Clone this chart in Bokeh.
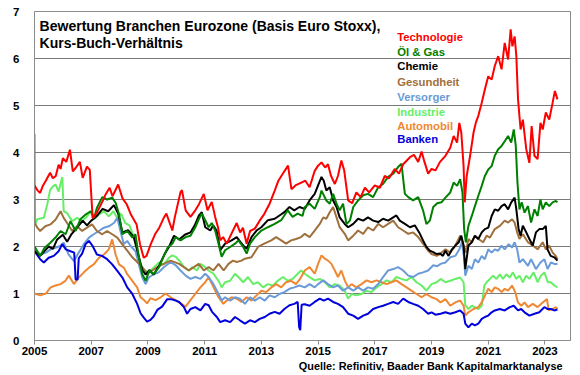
from bokeh.plotting import figure
from bokeh.models import Label, FixedTicker, Title
from bokeh.embed import file_html
from bokeh.resources import INLINE

# ---------------- data ----------------
TITLE_1 = "Bewertung Branchen Eurozone (Basis Euro Stoxx),"
TITLE_2 = "Kurs-Buch-Verhältnis"
SOURCE = "Quelle: Refinitiv, Baader Bank Kapitalmarktanalyse"
NAMES = ["Technologie", "Öl & Gas", "Chemie", "Gesundheit", "Versorger", "Industrie", "Automobil", "Banken"]
X_TICKS = [2005, 2007, 2009, 2011, 2013, 2015, 2017, 2019, 2021, 2023]
Y_TICKS = [0, 1, 2, 3, 4, 5, 6, 7]

TECH_X = [2005.0, 2005.1, 2005.2, 2005.3, 2005.4, 2005.55, 2005.65, 2005.75, 2005.85, 2005.92, 2006.0, 2006.12, 2006.25, 2006.35, 2006.45, 2006.6, 2006.7, 2006.85, 2006.95, 2007.05, 2007.2, 2007.4, 2007.5, 2007.65, 2007.75, 2007.95, 2008.1, 2008.25, 2008.4, 2008.6, 2008.72, 2008.85, 2008.95, 2009.1, 2009.25, 2009.4, 2009.55, 2009.65, 2009.86, 2009.95, 2010.15, 2010.2, 2010.33, 2010.5, 2010.67, 2010.8, 2010.97, 2011.1, 2011.25, 2011.37, 2011.47, 2011.55, 2011.65, 2011.78, 2011.95, 2012.13, 2012.25, 2012.35, 2012.48, 2012.6, 2012.77, 2012.94, 2013.1, 2013.29, 2013.47, 2013.6, 2013.82, 2013.94, 2014.06, 2014.2, 2014.41, 2014.55, 2014.7, 2014.88, 2015.0, 2015.12, 2015.25, 2015.35, 2015.45, 2015.59, 2015.7, 2015.82, 2015.92, 2016.06, 2016.2, 2016.35, 2016.5, 2016.65, 2016.8, 2017.0, 2017.18, 2017.35, 2017.5, 2017.7, 2017.85, 2018.0, 2018.24, 2018.38, 2018.53, 2018.65, 2018.75, 2018.88, 2019.0, 2019.14, 2019.3, 2019.49, 2019.66, 2019.78, 2019.9, 2019.98, 2020.05, 2020.13, 2020.17, 2020.24, 2020.36, 2020.48, 2020.56, 2020.65, 2020.77, 2020.88, 2021.0, 2021.12, 2021.23, 2021.35, 2021.47, 2021.58, 2021.7, 2021.79, 2021.85, 2021.93, 2021.99, 2022.05, 2022.14, 2022.22, 2022.34, 2022.45, 2022.53, 2022.63, 2022.74, 2022.84, 2022.92, 2023.03, 2023.15, 2023.27, 2023.35, 2023.44]
TECH_Y = [3.3, 3.2, 3.14, 3.3, 3.4, 3.57, 3.45, 3.5, 3.74, 3.65, 3.88, 3.8, 4.06, 3.6, 3.67, 3.8, 3.46, 3.7, 3.63, 2.6, 2.72, 2.96, 3.1, 3.25, 3.07, 3.32, 3.03, 2.9, 2.68, 2.47, 2.05, 1.76, 1.8, 2.05, 2.26, 2.4, 2.6, 2.7, 2.34, 2.63, 3.16, 3.2, 2.77, 2.63, 2.77, 2.9, 3.12, 2.77, 2.95, 2.63, 2.41, 2.13, 2.2, 2.06, 2.28, 2.5, 2.3, 2.4, 2.06, 2.33, 2.38, 2.55, 2.69, 2.91, 3.19, 3.4, 3.61, 3.72, 3.22, 3.3, 3.36, 3.4, 3.26, 3.61, 3.72, 3.79, 3.68, 3.75, 3.51, 3.33, 3.5, 3.83, 3.62, 2.98, 2.92, 3.15, 3.05, 3.25, 3.15, 3.3, 3.25, 3.5, 3.45, 3.65, 3.55, 3.75, 3.9, 3.95, 3.8, 4.02, 3.8, 3.55, 3.65, 3.62, 3.8, 3.93, 4.1, 4.35, 4.21, 4.63, 4.42, 3.71, 2.94, 3.5, 3.93, 4.42, 4.63, 4.78, 5.06, 5.34, 5.62, 5.55, 5.84, 6.05, 5.77, 6.33, 5.98, 6.62, 6.26, 6.47, 6.05, 5.13, 4.49, 4.7, 4.07, 3.78, 4.56, 3.93, 3.86, 4.63, 4.49, 4.85, 4.7, 5.06, 5.31, 5.13]

OIL_X = [2005.0, 2005.2, 2005.35, 2005.56, 2005.74, 2005.92, 2006.1, 2006.27, 2006.45, 2006.62, 2006.8, 2006.98, 2007.1, 2007.2, 2007.39, 2007.56, 2007.74, 2007.86, 2007.98, 2008.1, 2008.27, 2008.45, 2008.56, 2008.68, 2008.8, 2008.92, 2009.05, 2009.2, 2009.38, 2009.56, 2009.7, 2009.86, 2009.98, 2010.15, 2010.33, 2010.5, 2010.67, 2010.8, 2010.9, 2011.02, 2011.14, 2011.25, 2011.37, 2011.49, 2011.6, 2011.72, 2011.9, 2012.07, 2012.19, 2012.36, 2012.48, 2012.6, 2012.77, 2013.0, 2013.23, 2013.47, 2013.7, 2013.93, 2014.1, 2014.28, 2014.45, 2014.53, 2014.7, 2014.88, 2015.06, 2015.12, 2015.29, 2015.41, 2015.53, 2015.65, 2015.76, 2015.88, 2016.0, 2016.12, 2016.24, 2016.41, 2016.59, 2016.76, 2016.94, 2017.12, 2017.29, 2017.47, 2017.65, 2017.82, 2017.94, 2018.06, 2018.18, 2018.35, 2018.53, 2018.7, 2018.82, 2018.94, 2019.06, 2019.2, 2019.35, 2019.49, 2019.66, 2019.78, 2019.9, 2020.01, 2020.09, 2020.15, 2020.21, 2020.3, 2020.42, 2020.53, 2020.65, 2020.77, 2020.88, 2021.0, 2021.12, 2021.23, 2021.35, 2021.47, 2021.58, 2021.7, 2021.81, 2021.9, 2021.97, 2022.03, 2022.1, 2022.18, 2022.28, 2022.4, 2022.51, 2022.63, 2022.74, 2022.84, 2022.92, 2023.03, 2023.15, 2023.27, 2023.38, 2023.44]
OIL_Y = [2.0, 1.8, 1.97, 2.08, 2.19, 2.33, 2.26, 2.54, 2.33, 2.58, 2.68, 2.75, 2.61, 2.82, 3.05, 3.0, 3.04, 2.93, 2.69, 2.26, 2.33, 2.19, 2.26, 1.77, 1.41, 1.27, 1.49, 1.41, 1.55, 1.8, 1.98, 2.06, 2.2, 2.13, 2.2, 2.23, 2.41, 2.59, 2.7, 2.56, 2.41, 2.5, 2.34, 2.06, 1.78, 1.92, 1.99, 2.06, 2.13, 1.99, 1.85, 2.06, 2.2, 2.34, 2.41, 2.48, 2.56, 2.77, 2.63, 2.7, 2.65, 2.84, 2.91, 2.8, 3.05, 3.19, 2.98, 2.91, 3.12, 2.91, 2.77, 2.91, 2.48, 2.55, 2.84, 2.98, 3.09, 3.12, 3.05, 3.26, 3.33, 3.48, 3.55, 3.69, 3.76, 3.12, 3.05, 2.98, 3.05, 2.77, 2.48, 2.55, 2.84, 2.92, 2.94, 3.04, 3.15, 3.36, 3.29, 3.43, 3.15, 2.37, 2.09, 2.44, 2.65, 2.86, 3.08, 3.29, 3.5, 3.64, 3.71, 3.93, 4.07, 4.14, 4.24, 4.35, 4.21, 4.49, 4.14, 3.36, 2.79, 2.94, 2.72, 2.86, 2.51, 2.79, 2.65, 3.0, 2.79, 2.94, 2.86, 2.94, 2.97, 2.94]

CHEM_X = [2005.0, 2005.2, 2005.35, 2005.5, 2005.65, 2005.8, 2006.0, 2006.15, 2006.3, 2006.5, 2006.7, 2006.85, 2007.0, 2007.2, 2007.4, 2007.6, 2007.8, 2007.95, 2008.1, 2008.3, 2008.5, 2008.65, 2008.8, 2008.92, 2009.05, 2009.2, 2009.4, 2009.6, 2009.75, 2009.92, 2010.1, 2010.3, 2010.5, 2010.65, 2010.8, 2010.9, 2011.02, 2011.2, 2011.3, 2011.42, 2011.55, 2011.72, 2011.95, 2012.13, 2012.36, 2012.48, 2012.65, 2012.83, 2013.0, 2013.23, 2013.47, 2013.64, 2013.81, 2013.99, 2014.16, 2014.34, 2014.53, 2014.7, 2014.88, 2015.0, 2015.12, 2015.2, 2015.29, 2015.41, 2015.53, 2015.65, 2015.76, 2015.94, 2016.06, 2016.24, 2016.41, 2016.59, 2016.76, 2016.94, 2017.12, 2017.29, 2017.47, 2017.65, 2017.76, 2017.88, 2018.06, 2018.24, 2018.41, 2018.59, 2018.7, 2018.82, 2018.94, 2019.06, 2019.18, 2019.3, 2019.4, 2019.49, 2019.6, 2019.72, 2019.84, 2019.96, 2020.05, 2020.13, 2020.19, 2020.3, 2020.42, 2020.53, 2020.65, 2020.77, 2020.88, 2021.0, 2021.12, 2021.23, 2021.35, 2021.47, 2021.58, 2021.7, 2021.81, 2021.93, 2021.99, 2022.07, 2022.14, 2022.22, 2022.34, 2022.45, 2022.57, 2022.68, 2022.8, 2022.92, 2023.03, 2023.09, 2023.2, 2023.33, 2023.44]
CHEM_Y = [1.9, 1.8, 1.9, 2.0, 1.95, 2.15, 2.25, 2.1, 2.26, 2.4, 2.55, 2.45, 2.55, 2.65, 2.8, 2.75, 2.88, 2.7, 2.3, 2.35, 2.2, 1.85, 1.5, 1.4, 1.5, 1.4, 1.6, 1.85, 2.0, 2.23, 2.15, 2.25, 2.3, 2.45, 2.66, 2.73, 2.41, 2.34, 2.45, 2.34, 1.92, 2.06, 2.13, 2.2, 2.02, 1.95, 2.2, 2.34, 2.41, 2.56, 2.59, 2.66, 2.73, 2.84, 2.77, 2.84, 2.8, 2.98, 3.12, 3.3, 3.48, 3.4, 3.19, 3.26, 2.98, 2.84, 2.62, 2.48, 2.41, 2.48, 2.59, 2.55, 2.62, 2.55, 2.52, 2.59, 2.55, 2.62, 2.66, 2.55, 2.48, 2.41, 2.45, 2.27, 2.13, 1.99, 1.91, 1.88, 1.84, 1.85, 1.8, 1.91, 1.8, 1.94, 2.02, 2.09, 2.23, 2.02, 1.52, 2.02, 2.09, 2.23, 2.16, 2.3, 2.37, 2.4, 2.65, 2.79, 2.76, 2.86, 2.9, 2.79, 2.94, 3.04, 2.79, 2.37, 2.23, 2.44, 2.3, 2.16, 2.02, 2.3, 2.37, 2.37, 2.44, 1.94, 1.8, 1.77, 1.7]

HEALTH_X = [2005.0, 2005.01, 2005.1, 2005.2, 2005.38, 2005.56, 2005.74, 2005.92, 2006.03, 2006.15, 2006.33, 2006.5, 2006.68, 2006.85, 2007.03, 2007.2, 2007.39, 2007.56, 2007.74, 2007.92, 2008.09, 2008.27, 2008.45, 2008.62, 2008.8, 2008.97, 2009.15, 2009.33, 2009.56, 2009.8, 2010.1, 2010.27, 2010.44, 2010.62, 2010.79, 2010.97, 2011.14, 2011.31, 2011.49, 2011.67, 2011.84, 2012.0, 2012.13, 2012.3, 2012.42, 2012.65, 2012.88, 2013.1, 2013.35, 2013.52, 2013.7, 2013.87, 2014.05, 2014.22, 2014.4, 2014.53, 2014.7, 2014.88, 2015.06, 2015.18, 2015.29, 2015.41, 2015.53, 2015.65, 2015.76, 2015.94, 2016.06, 2016.24, 2016.41, 2016.59, 2016.76, 2016.94, 2017.12, 2017.29, 2017.47, 2017.65, 2017.82, 2018.0, 2018.18, 2018.35, 2018.53, 2018.7, 2018.88, 2019.0, 2019.18, 2019.3, 2019.49, 2019.66, 2019.84, 2020.01, 2020.13, 2020.21, 2020.3, 2020.42, 2020.53, 2020.65, 2020.82, 2020.94, 2021.06, 2021.23, 2021.41, 2021.58, 2021.7, 2021.84, 2021.93, 2022.02, 2022.1, 2022.22, 2022.4, 2022.57, 2022.74, 2022.92, 2023.03, 2023.15, 2023.27, 2023.38, 2023.44]
HEALTH_Y = [4.4, 2.5, 2.4, 2.33, 2.43, 2.47, 2.57, 2.75, 2.61, 2.5, 2.33, 2.43, 2.33, 2.4, 2.47, 2.33, 2.26, 2.33, 2.26, 2.19, 2.05, 1.91, 1.77, 1.67, 1.56, 1.42, 1.49, 1.56, 1.63, 1.7, 1.63, 1.56, 1.49, 1.56, 1.63, 1.49, 1.56, 1.49, 1.63, 1.49, 1.63, 1.7, 1.67, 1.7, 1.74, 1.77, 1.99, 2.06, 2.13, 2.2, 2.13, 2.06, 2.13, 2.16, 2.2, 2.27, 2.2, 2.34, 2.48, 2.62, 2.59, 2.73, 2.84, 2.62, 2.41, 2.27, 2.13, 2.23, 2.34, 2.27, 2.41, 2.34, 2.48, 2.41, 2.48, 2.55, 2.41, 2.34, 2.27, 2.3, 2.2, 2.06, 1.91, 1.84, 1.8, 1.84, 1.94, 1.87, 2.02, 2.23, 2.02, 1.87, 2.16, 2.09, 2.23, 2.16, 2.09, 2.23, 2.19, 2.37, 2.44, 2.55, 2.51, 2.58, 2.51, 2.3, 2.16, 2.26, 2.09, 2.02, 1.94, 2.09, 1.94, 2.02, 1.87, 1.8, 1.73]

UTIL_X = [2005.0, 2005.2, 2005.4, 2005.57, 2005.74, 2005.9, 2006.03, 2006.2, 2006.39, 2006.56, 2006.74, 2006.92, 2007.09, 2007.27, 2007.45, 2007.62, 2007.8, 2007.92, 2008.03, 2008.15, 2008.27, 2008.39, 2008.56, 2008.68, 2008.8, 2008.92, 2009.03, 2009.2, 2009.38, 2009.56, 2009.8, 2009.98, 2010.15, 2010.33, 2010.5, 2010.67, 2010.85, 2011.02, 2011.14, 2011.31, 2011.49, 2011.6, 2011.72, 2011.9, 2012.07, 2012.24, 2012.42, 2012.6, 2012.77, 2012.94, 2013.12, 2013.29, 2013.47, 2013.64, 2013.81, 2013.99, 2014.16, 2014.34, 2014.53, 2014.7, 2014.88, 2015.0, 2015.18, 2015.35, 2015.53, 2015.7, 2015.88, 2016.06, 2016.24, 2016.41, 2016.59, 2016.76, 2016.94, 2017.12, 2017.29, 2017.47, 2017.65, 2017.82, 2018.0, 2018.18, 2018.35, 2018.53, 2018.7, 2018.88, 2019.06, 2019.2, 2019.32, 2019.49, 2019.66, 2019.84, 2019.98, 2020.07, 2020.14, 2020.19, 2020.3, 2020.42, 2020.53, 2020.65, 2020.77, 2020.88, 2021.0, 2021.12, 2021.23, 2021.35, 2021.47, 2021.58, 2021.72, 2021.84, 2021.93, 2022.02, 2022.1, 2022.22, 2022.4, 2022.51, 2022.68, 2022.84, 2022.98, 2023.09, 2023.21, 2023.33, 2023.44]
UTIL_Y = [1.94, 1.83, 1.87, 1.94, 1.97, 2.01, 2.08, 1.83, 1.69, 1.87, 2.05, 2.19, 2.26, 2.33, 2.4, 2.43, 2.5, 2.61, 2.33, 2.05, 2.12, 2.01, 1.9, 1.62, 1.34, 1.2, 1.34, 1.41, 1.45, 1.56, 1.67, 1.6, 1.49, 1.38, 1.31, 1.35, 1.31, 1.42, 1.35, 1.2, 0.99, 0.85, 0.92, 0.85, 0.92, 0.89, 0.78, 0.92, 0.85, 0.92, 0.85, 0.96, 0.92, 0.99, 1.03, 1.1, 1.13, 1.17, 1.13, 1.2, 1.13, 1.2, 1.28, 1.2, 1.13, 1.17, 1.06, 1.13, 1.06, 1.13, 1.06, 1.13, 1.1, 1.2, 1.35, 1.49, 1.52, 1.56, 1.49, 1.38, 1.35, 1.42, 1.45, 1.49, 1.6, 1.58, 1.63, 1.66, 1.77, 1.8, 1.94, 2.09, 1.8, 1.38, 1.59, 1.52, 1.73, 1.66, 1.8, 1.73, 1.94, 1.87, 1.94, 1.91, 2.02, 1.94, 2.05, 1.98, 2.09, 1.94, 1.66, 1.73, 1.59, 1.73, 1.52, 1.66, 1.73, 1.52, 1.66, 1.63, 1.63]

IND_X = [2005.0, 2005.1, 2005.33, 2005.45, 2005.55, 2005.65, 2005.74, 2005.85, 2005.98, 2006.03, 2006.15, 2006.33, 2006.5, 2006.68, 2006.85, 2006.98, 2007.1, 2007.27, 2007.45, 2007.62, 2007.78, 2007.92, 2008.05, 2008.2, 2008.35, 2008.5, 2008.6, 2008.7, 2008.8, 2008.92, 2009.03, 2009.2, 2009.39, 2009.56, 2009.74, 2009.86, 2009.98, 2010.15, 2010.27, 2010.44, 2010.56, 2010.73, 2010.85, 2011.02, 2011.14, 2011.31, 2011.49, 2011.6, 2011.72, 2011.9, 2012.07, 2012.19, 2012.36, 2012.53, 2012.71, 2012.88, 2013.06, 2013.23, 2013.41, 2013.58, 2013.76, 2013.93, 2014.1, 2014.28, 2014.4, 2014.53, 2014.7, 2014.88, 2015.06, 2015.24, 2015.41, 2015.59, 2015.76, 2015.94, 2016.06, 2016.18, 2016.35, 2016.53, 2016.71, 2016.88, 2017.06, 2017.24, 2017.41, 2017.59, 2017.76, 2017.94, 2018.12, 2018.29, 2018.47, 2018.65, 2018.82, 2019.0, 2019.18, 2019.32, 2019.49, 2019.66, 2019.84, 2020.01, 2020.13, 2020.19, 2020.3, 2020.42, 2020.53, 2020.65, 2020.77, 2020.86, 2020.94, 2021.06, 2021.17, 2021.29, 2021.41, 2021.52, 2021.64, 2021.76, 2021.87, 2021.99, 2022.1, 2022.22, 2022.34, 2022.45, 2022.6, 2022.74, 2022.86, 2022.98, 2023.1, 2023.21, 2023.33, 2023.44]
IND_Y = [2.45, 2.58, 2.61, 2.9, 3.2, 3.28, 3.32, 3.17, 3.48, 2.75, 2.71, 2.54, 2.61, 2.54, 2.64, 2.75, 2.58, 2.68, 2.75, 2.64, 2.75, 2.6, 2.7, 2.5, 2.45, 2.2, 1.98, 1.69, 1.55, 1.48, 1.45, 1.55, 1.66, 1.62, 1.76, 1.81, 1.78, 1.67, 1.56, 1.49, 1.56, 1.49, 1.63, 1.56, 1.49, 1.42, 1.27, 1.13, 1.24, 1.27, 1.42, 1.35, 1.24, 1.35, 1.2, 1.24, 1.13, 1.2, 1.17, 1.27, 1.35, 1.27, 1.31, 1.42, 1.49, 1.42, 1.35, 1.28, 1.31, 1.24, 1.13, 1.2, 1.17, 1.06, 0.89, 0.99, 0.96, 0.99, 1.06, 1.03, 1.13, 1.2, 1.28, 1.24, 1.35, 1.31, 1.28, 1.35, 1.24, 1.17, 1.06, 1.2, 1.24, 1.31, 1.24, 1.27, 1.31, 1.34, 1.24, 0.75, 0.67, 0.74, 0.71, 0.67, 0.74, 1.17, 1.24, 1.31, 1.38, 1.31, 1.41, 1.31, 1.41, 1.34, 1.45, 1.31, 1.38, 1.24, 1.38, 1.31, 1.45, 1.24, 1.38, 1.45, 1.24, 1.24, 1.17, 1.13]

AUTO_X = [2005.0, 2005.2, 2005.4, 2005.57, 2005.74, 2005.92, 2006.09, 2006.21, 2006.39, 2006.56, 2006.74, 2006.92, 2007.09, 2007.27, 2007.45, 2007.62, 2007.74, 2007.86, 2007.98, 2008.15, 2008.27, 2008.45, 2008.62, 2008.74, 2008.86, 2008.97, 2009.09, 2009.27, 2009.45, 2009.62, 2009.8, 2009.98, 2010.15, 2010.33, 2010.5, 2010.67, 2010.85, 2011.02, 2011.14, 2011.26, 2011.37, 2011.49, 2011.66, 2011.78, 2011.95, 2012.13, 2012.3, 2012.48, 2012.65, 2012.83, 2013.0, 2013.17, 2013.35, 2013.52, 2013.7, 2013.87, 2014.05, 2014.22, 2014.35, 2014.53, 2014.7, 2014.88, 2015.0, 2015.12, 2015.24, 2015.35, 2015.47, 2015.59, 2015.7, 2015.82, 2015.94, 2016.06, 2016.18, 2016.35, 2016.53, 2016.71, 2016.88, 2017.06, 2017.24, 2017.41, 2017.59, 2017.76, 2017.94, 2018.12, 2018.29, 2018.47, 2018.65, 2018.82, 2019.0, 2019.18, 2019.32, 2019.49, 2019.66, 2019.84, 2020.01, 2020.13, 2020.19, 2020.3, 2020.48, 2020.65, 2020.77, 2020.88, 2021.0, 2021.12, 2021.23, 2021.35, 2021.47, 2021.58, 2021.7, 2021.84, 2021.95, 2022.05, 2022.16, 2022.28, 2022.4, 2022.57, 2022.74, 2022.92, 2023.07, 2023.13, 2023.27, 2023.38, 2023.44]
AUTO_Y = [1.0, 0.96, 1.0, 1.13, 1.17, 1.2, 1.27, 1.38, 1.2, 1.34, 1.45, 1.55, 1.62, 1.76, 1.83, 1.94, 2.15, 1.83, 1.62, 1.55, 1.41, 1.27, 1.13, 0.92, 0.86, 0.79, 0.9, 0.86, 0.92, 1.0, 0.92, 0.86, 0.79, 0.72, 0.86, 0.99, 1.13, 1.24, 1.35, 1.2, 1.06, 0.92, 0.78, 0.85, 0.92, 0.89, 0.82, 0.92, 0.85, 0.96, 1.06, 1.03, 1.13, 1.2, 1.13, 1.24, 1.27, 1.2, 1.3, 1.49, 1.56, 1.42, 1.63, 1.81, 1.74, 1.7, 1.63, 1.49, 1.35, 1.49, 1.28, 1.13, 1.2, 1.13, 1.2, 1.28, 1.24, 1.28, 1.24, 1.2, 1.24, 1.28, 1.2, 1.13, 1.06, 0.99, 0.92, 0.99, 0.92, 0.88, 0.81, 0.88, 0.74, 0.81, 0.85, 0.74, 0.53, 0.6, 0.67, 0.71, 0.81, 0.95, 1.1, 1.03, 1.13, 1.1, 1.03, 1.1, 1.06, 1.17, 1.03, 0.81, 0.74, 0.81, 0.71, 0.78, 0.71, 0.81, 0.88, 0.64, 0.67, 0.71, 0.67]

BANK_X = [2005.0, 2005.2, 2005.33, 2005.5, 2005.68, 2005.85, 2005.98, 2006.1, 2006.27, 2006.4, 2006.45, 2006.52, 2006.56, 2006.68, 2006.8, 2006.92, 2007.05, 2007.2, 2007.38, 2007.56, 2007.74, 2007.92, 2008.1, 2008.27, 2008.45, 2008.62, 2008.74, 2008.86, 2008.97, 2009.09, 2009.2, 2009.33, 2009.5, 2009.68, 2009.8, 2009.98, 2010.1, 2010.27, 2010.38, 2010.5, 2010.67, 2010.85, 2011.02, 2011.14, 2011.26, 2011.43, 2011.55, 2011.72, 2011.9, 2012.07, 2012.24, 2012.42, 2012.6, 2012.77, 2012.94, 2013.12, 2013.29, 2013.47, 2013.64, 2013.81, 2013.99, 2014.16, 2014.28, 2014.33, 2014.37, 2014.42, 2014.53, 2014.7, 2014.88, 2015.06, 2015.2, 2015.35, 2015.53, 2015.7, 2015.88, 2016.06, 2016.24, 2016.41, 2016.59, 2016.76, 2016.94, 2017.12, 2017.29, 2017.47, 2017.65, 2017.82, 2018.0, 2018.18, 2018.35, 2018.53, 2018.7, 2018.88, 2019.0, 2019.14, 2019.32, 2019.49, 2019.66, 2019.84, 2020.01, 2020.13, 2020.19, 2020.3, 2020.42, 2020.53, 2020.65, 2020.77, 2020.88, 2021.0, 2021.12, 2021.23, 2021.41, 2021.58, 2021.76, 2021.9, 2022.05, 2022.16, 2022.28, 2022.45, 2022.63, 2022.8, 2022.98, 2023.1, 2023.21, 2023.33, 2023.44]
BANK_Y = [1.9, 1.73, 1.66, 1.76, 1.8, 1.9, 2.05, 1.94, 1.9, 1.87, 1.3, 1.3, 1.75, 1.85, 2.05, 2.12, 2.01, 1.83, 1.8, 1.73, 1.62, 1.48, 1.34, 1.13, 0.99, 0.78, 0.58, 0.48, 0.4, 0.44, 0.51, 0.65, 0.72, 0.88, 0.88, 0.85, 0.82, 0.71, 0.57, 0.67, 0.71, 0.64, 0.78, 0.75, 0.61, 0.5, 0.39, 0.43, 0.39, 0.5, 0.43, 0.36, 0.43, 0.39, 0.46, 0.5, 0.57, 0.61, 0.57, 0.67, 0.75, 0.78, 0.82, 0.29, 0.22, 0.76, 0.77, 0.74, 0.82, 0.89, 0.85, 0.89, 0.82, 0.78, 0.71, 0.57, 0.53, 0.46, 0.53, 0.57, 0.67, 0.71, 0.74, 0.78, 0.82, 0.78, 0.89, 0.82, 0.78, 0.74, 0.67, 0.57, 0.6, 0.55, 0.57, 0.6, 0.57, 0.6, 0.64, 0.57, 0.36, 0.28, 0.36, 0.32, 0.36, 0.46, 0.5, 0.53, 0.6, 0.64, 0.67, 0.64, 0.71, 0.74, 0.64, 0.67, 0.6, 0.53, 0.57, 0.6, 0.71, 0.67, 0.67, 0.64, 0.66]

# ---------------- styling ----------------
COLORS = ["#FF0000", "#008000", "#000000", "#A0703C", "#6A9BD8", "#66EE66", "#EE8833", "#0000DD"]
FONT = "Liberation Sans"

SERIES = [(TECH_X, TECH_Y), (OIL_X, OIL_Y), (CHEM_X, CHEM_Y), (HEALTH_X, HEALTH_Y),
          (UTIL_X, UTIL_Y), (IND_X, IND_Y), (AUTO_X, AUTO_Y), (BANK_X, BANK_Y)]

p = figure(width=580, height=375, x_range=(2005, 2023.9), y_range=(0, 7),
           output_backend="svg", toolbar_location=None,
           min_border_left=34, min_border_right=10, min_border_top=11, min_border_bottom=35)
p.background_fill_color = "white"
p.border_fill_color = "white"
p.outline_line_color = "#8c8c8c"
p.outline_line_width = 1

# draw order: bottom to top
for i in [5, 6, 4, 3, 7, 2, 1, 0]:
    xs, ys = SERIES[i]
    p.line(xs, ys, line_color=COLORS[i], line_width=2)

p.xgrid.visible = False
p.ygrid.ticker = FixedTicker(ticks=Y_TICKS)
p.ygrid.grid_line_color = "#7a7a7a"
p.ygrid.grid_line_width = 1

p.yaxis.ticker = FixedTicker(ticks=Y_TICKS)
p.yaxis.axis_line_color = "#8c8c8c"
p.yaxis.major_tick_line_color = None
p.yaxis.minor_tick_line_color = None
p.yaxis.major_label_standoff = 9
p.yaxis.major_label_text_font = FONT
p.yaxis.major_label_text_font_style = "bold"
p.yaxis.major_label_text_font_size = "11.5px"
p.yaxis.major_label_text_color = "black"

p.xaxis.ticker = FixedTicker(ticks=X_TICKS)
p.xaxis.axis_line_color = "#8c8c8c"
p.xaxis.major_tick_line_color = "#8c8c8c"
p.xaxis.major_tick_out = 4
p.xaxis.major_tick_in = 0
p.xaxis.minor_tick_line_color = None
p.xaxis.major_label_standoff = 2
p.xaxis.major_label_text_font = FONT
p.xaxis.major_label_text_font_style = "bold"
p.xaxis.major_label_text_font_size = "11.5px"
p.xaxis.major_label_text_color = "black"

# title inside the plot
p.add_layout(Label(x=2005.18, y=6.70, text=TITLE_1, text_font=FONT, text_font_style="bold",
                   text_font_size="14px", text_color="black", text_baseline="alphabetic"))
p.add_layout(Label(x=2005.18, y=6.34, text=TITLE_2, text_font=FONT, text_font_style="bold",
                   text_font_size="14px", text_color="black", text_baseline="alphabetic"))

# legend as coloured labels
LEG_Y = [6.45, 6.13, 5.83, 5.50, 5.18, 4.86, 4.56, 4.28]
for name, col, ly in zip(NAMES, COLORS, LEG_Y):
    p.add_layout(Label(x=2017.79, y=ly, text=name, text_font=FONT, text_font_style="bold",
                       text_font_size="11.3px", text_color=col, text_baseline="middle"))

# source line below the axis
p.add_layout(Title(text=SOURCE, align="right", offset=8, standoff=0,
                   text_font=FONT, text_font_style="bold", text_font_size="10.9px",
                   text_color="black"), "below")

open("out.html", "w").write(file_html(p, INLINE))
